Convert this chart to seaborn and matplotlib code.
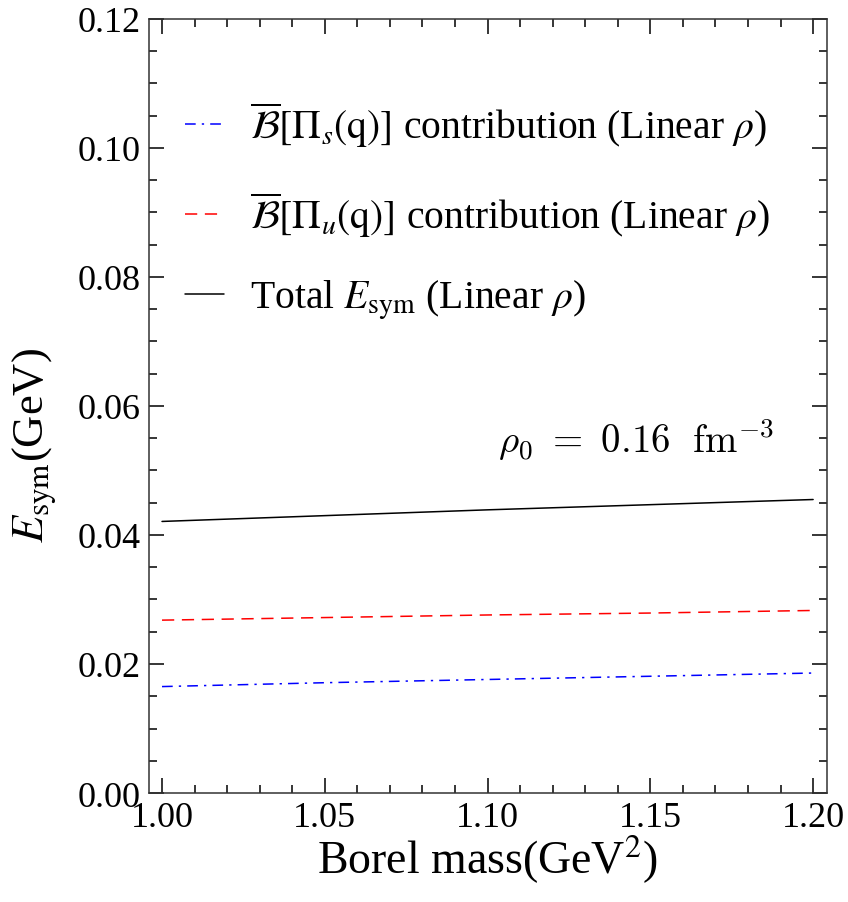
import numpy as np
import pandas as pd
import matplotlib
matplotlib.use("Agg")
import matplotlib.pyplot as plt
import seaborn as sns

# values
borel_mass = [1.00, 1.05, 1.10, 1.15, 1.20]
pi_s_contrib = [0.0165, 0.0171, 0.0176, 0.0181, 0.0186]
pi_u_contrib = [0.0268, 0.0272, 0.0276, 0.0279, 0.0283]
total_esym = [0.0421, 0.0430, 0.0439, 0.0447, 0.0455]

sns.set_style("ticks")
plt.rcParams["font.family"] = ["Liberation Serif", "DejaVu Serif"]
plt.rcParams["mathtext.fontset"] = "stix"
plt.rcParams["text.color"] = "black"
plt.rcParams["axes.labelcolor"] = "black"

df = pd.DataFrame({
    "M2": borel_mass,
    "s": pi_s_contrib,
    "u": pi_u_contrib,
    "tot": total_esym,
})

fig = plt.figure(figsize=(8.48, 9.03), dpi=100)
ax = fig.add_axes([0.1757, 0.1207, 0.7993, 0.8572])

sns.lineplot(data=df, x="M2", y="s", ax=ax, color="blue", lw=1.1,
             linestyle=(0, (7, 4, 1.5, 4)),
             label=r"$\overline{\mathcal{B}}[\Pi_s(\mathrm{q})]$ contribution (Linear $\rho$)")
sns.lineplot(data=df, x="M2", y="u", ax=ax, color="red", lw=1.1,
             linestyle=(0, (8, 5)),
             label=r"$\overline{\mathcal{B}}[\Pi_u(\mathrm{q})]$ contribution (Linear $\rho$)")
sns.lineplot(data=df, x="M2", y="tot", ax=ax, color="black", lw=1.1,
             label=r"Total $E_{\mathrm{sym}}$ (Linear $\rho$)")

ax.set_xlim(0.996, 1.2042)
ax.set_ylim(0, 0.12)
ax.set_xticks([1.00, 1.05, 1.10, 1.15, 1.20])
ax.set_xticklabels(["1.00", "1.05", "1.10", "1.15", "1.20"])
ax.set_yticks([0.00, 0.02, 0.04, 0.06, 0.08, 0.10, 0.12])
ax.set_yticklabels(["0.00", "0.02", "0.04", "0.06", "0.08", "0.10", "0.12"])
ax.set_xticks(np.arange(1.00, 1.2001, 0.01), minor=True)
ax.set_yticks(np.arange(0, 0.1201, 0.005), minor=True)
ax.tick_params(which="both", direction="in", top=True, right=True,
               labelsize=26, width=1.1, colors="black")
ax.tick_params(which="major", length=11, pad=6)
ax.tick_params(which="minor", length=6)
for sp in ax.spines.values():
    sp.set_linewidth(1.1)
    sp.set_color("#333333")

ax.set_xlabel(r"Borel mass(GeV$^2$)", fontsize=33, color="black")
ax.xaxis.set_label_coords(0.5, -0.052)
ax.set_ylabel(r"$E_{\mathrm{sym}}$(GeV)", fontsize=32, color="black")
ax.yaxis.set_label_coords(-0.133, 0.45)

ax.text(0.923, 0.428, r"$\rho_0\ =\ 0.16\ \ \mathrm{fm}^{-3}$", transform=ax.transAxes,
        ha="right", va="bottom", fontsize=28, math_fontfamily="cm", color="black")

leg = ax.legend(loc="upper left", bbox_to_anchor=(0.0, 0.942), frameon=False,
                fontsize=28.5, handlelength=1.0, handletextpad=0.65, labelspacing=1.0)
for t in leg.get_texts():
    t.set_color("black")

fig.savefig("out.png", dpi=100)
